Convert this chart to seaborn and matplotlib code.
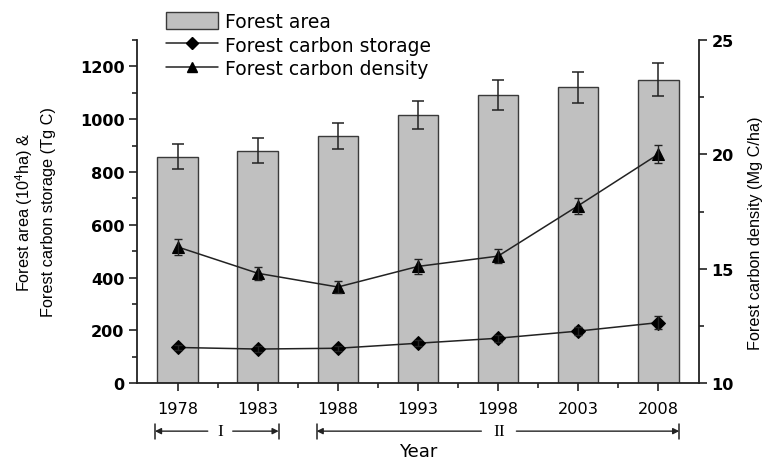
import numpy as np
import pandas as pd
import matplotlib
matplotlib.use("Agg")
import matplotlib.pyplot as plt
from matplotlib.patches import Patch
from matplotlib.lines import Line2D
from matplotlib.ticker import MultipleLocator
import seaborn as sns

# --- data -------------------------------------------------------------
years = [1978, 1983, 1988, 1993, 1998, 2003, 2008]
forest_area = [857, 881, 937, 1015, 1091, 1120, 1149]          # 10^4 ha
forest_area_err = [47, 46, 50, 54, 58, 60, 62]
carbon_storage = [135, 129, 132, 151, 170, 197, 229]           # Tg C
carbon_storage_err = [11, 10, 10, 12, 13, 16, 24]
carbon_density = [15.95, 14.8, 14.2, 15.1, 15.55, 17.75, 20.0]  # Mg C/ha
carbon_density_err = [0.35, 0.29, 0.28, 0.31, 0.31, 0.34, 0.39]
year_ticks = years
left_ticks = [0, 200, 400, 600, 800, 1000, 1200]
right_ticks = [10, 15, 20, 25]

df = pd.DataFrame({"year": years, "area": forest_area,
                   "storage": carbon_storage, "density": carbon_density})

# --- style ------------------------------------------------------------
sns.set_style("ticks")
plt.rcParams["font.family"] = ["DejaVu Sans"]
plt.rcParams["mathtext.fontset"] = "custom"
plt.rcParams["mathtext.rm"] = "Liberation Sans"
plt.rcParams["mathtext.it"] = "Liberation Sans:italic"
for key in ("text.color", "axes.labelcolor", "xtick.labelcolor", "ytick.labelcolor"):
    plt.rcParams[key] = "black"
label_font = ["Liberation Sans", "DejaVu Sans"]

ink = "#222222"
bar_face = "#c0c0c0"

fig = plt.figure(figsize=(7.74, 4.60), dpi=100)
ax = fig.add_axes([0.177, 0.165, 0.726, 0.746])
ax2 = ax.twinx()

# bars: forest area
sns.barplot(data=df, x="year", y="area", native_scale=True, width=0.51,
            color=bar_face, saturation=1, edgecolor="#3a3a3a", linewidth=1.0,
            errorbar=None, ax=ax, zorder=2)
ax.errorbar(years, forest_area, yerr=forest_area_err, fmt="none",
            ecolor=ink, elinewidth=1.1, capsize=4, capthick=1.1, zorder=3)

# line: carbon storage on left axis
sns.lineplot(data=df, x="year", y="storage", ax=ax, color=ink, linewidth=1.1,
             marker="D", markersize=7, markerfacecolor="black",
             markeredgecolor="black", zorder=4)
ax.errorbar(years, carbon_storage, yerr=carbon_storage_err, fmt="none",
            ecolor=ink, elinewidth=1.0, capsize=3, capthick=1.0, zorder=4)

# line: carbon density on right axis
sns.lineplot(data=df, x="year", y="density", ax=ax2, color=ink, linewidth=1.1,
             marker="^", markersize=8, markerfacecolor="black",
             markeredgecolor="black", zorder=4)
ax2.errorbar(years, carbon_density, yerr=carbon_density_err, fmt="none",
             ecolor=ink, elinewidth=1.0, capsize=3, capthick=1.0, zorder=4)

# --- axes -------------------------------------------------------------
ax.set_xlim(1975.45, 2010.55)
ax.set_ylim(0, 1300)
ax2.set_ylim(10, 25)

ax.set_xticks(year_ticks)
ax.set_xticklabels([str(y) for y in year_ticks], fontsize=11.6)
ax.set_xticks([y + 2.5 for y in years[:-1]], minor=True)

ax.set_yticks(left_ticks)
ax.set_yticklabels([str(v) for v in left_ticks], fontsize=11.6, fontweight="bold")
ax.yaxis.set_minor_locator(MultipleLocator(100))
ax2.set_yticks(right_ticks)
ax2.set_yticklabels([str(v) for v in right_ticks], fontsize=11.6, fontweight="bold")
ax2.yaxis.set_minor_locator(MultipleLocator(2.5))

for a in (ax, ax2):
    a.tick_params(which="major", length=6, width=1.2, color=ink, pad=3)
    a.tick_params(which="minor", length=3.5, width=1.2, color=ink)
    for s in a.spines.values():
        s.set_linewidth(1.3)
        s.set_color(ink)
    a.spines["top"].set_visible(False)
    a.grid(False)
ax.tick_params(axis="x", which="major", pad=7)
ax.spines["right"].set_visible(False)
ax2.spines["left"].set_visible(False)
ax2.spines["bottom"].set_visible(False)

ax.set_xlabel("Year", fontsize=13)
ax.xaxis.set_label_coords(0.5, -0.172)
ax.set_ylabel("Forest area (10$^{4}$ha) &\nForest carbon storage (Tg C)",
              fontsize=11.7, linespacing=1.45, family=label_font)
ax.yaxis.set_label_coords(-0.145, 0.5)
ax2.set_ylabel("Forest carbon density (Mg C/ha)", fontsize=11.7,
               family=label_font)
ax2.yaxis.set_label_coords(1.088, 0.44)

# --- period brackets under the year axis ------------------------------
trans = ax.get_xaxis_transform()
yb = -0.14
periods = [("I", 1976.57, 1979.87, 1980.68, 1981.43, 1984.30),
           ("II", 1986.67, 1996.96, 1998.09, 1999.15, 2009.32)]
for label, x0, xa, xm, xb, x1 in periods:
    for start, end in ((xa, x0), (xb, x1)):
        ax.annotate("", xy=(end, yb), xytext=(start, yb), xycoords=trans,
                    textcoords=trans, annotation_clip=False,
                    arrowprops=dict(arrowstyle="-|>", color=ink, lw=1.0,
                                    mutation_scale=9, shrinkA=0, shrinkB=0))
    for xe in (x0, x1):
        ax.plot([xe, xe], [yb - 0.022, yb + 0.022], transform=trans,
                color=ink, lw=1.1, clip_on=False)
    ax.text(xm, yb, label, transform=trans, ha="center", va="center",
            fontsize=12.5, family=["Liberation Serif", "DejaVu Serif"])

# --- legend -----------------------------------------------------------
handles = [
    Patch(facecolor=bar_face, edgecolor="#3a3a3a", linewidth=1.0),
    Line2D([0], [0], color=ink, lw=1.1, marker="D", markersize=6,
           markerfacecolor="black", markeredgecolor="black"),
    Line2D([0], [0], color=ink, lw=1.1, marker="^", markersize=7,
           markerfacecolor="black", markeredgecolor="black"),
]
labels = ["Forest area", "Forest carbon storage", "Forest carbon density"]
fig.legend(handles, labels, loc="upper left", bbox_to_anchor=(0.205, 0.988),
           frameon=False, fontsize=13.5, handlelength=2.75, handleheight=1.0,
           handletextpad=0.37, labelspacing=0.24, borderaxespad=0)

fig.savefig("out.png", dpi=100)
